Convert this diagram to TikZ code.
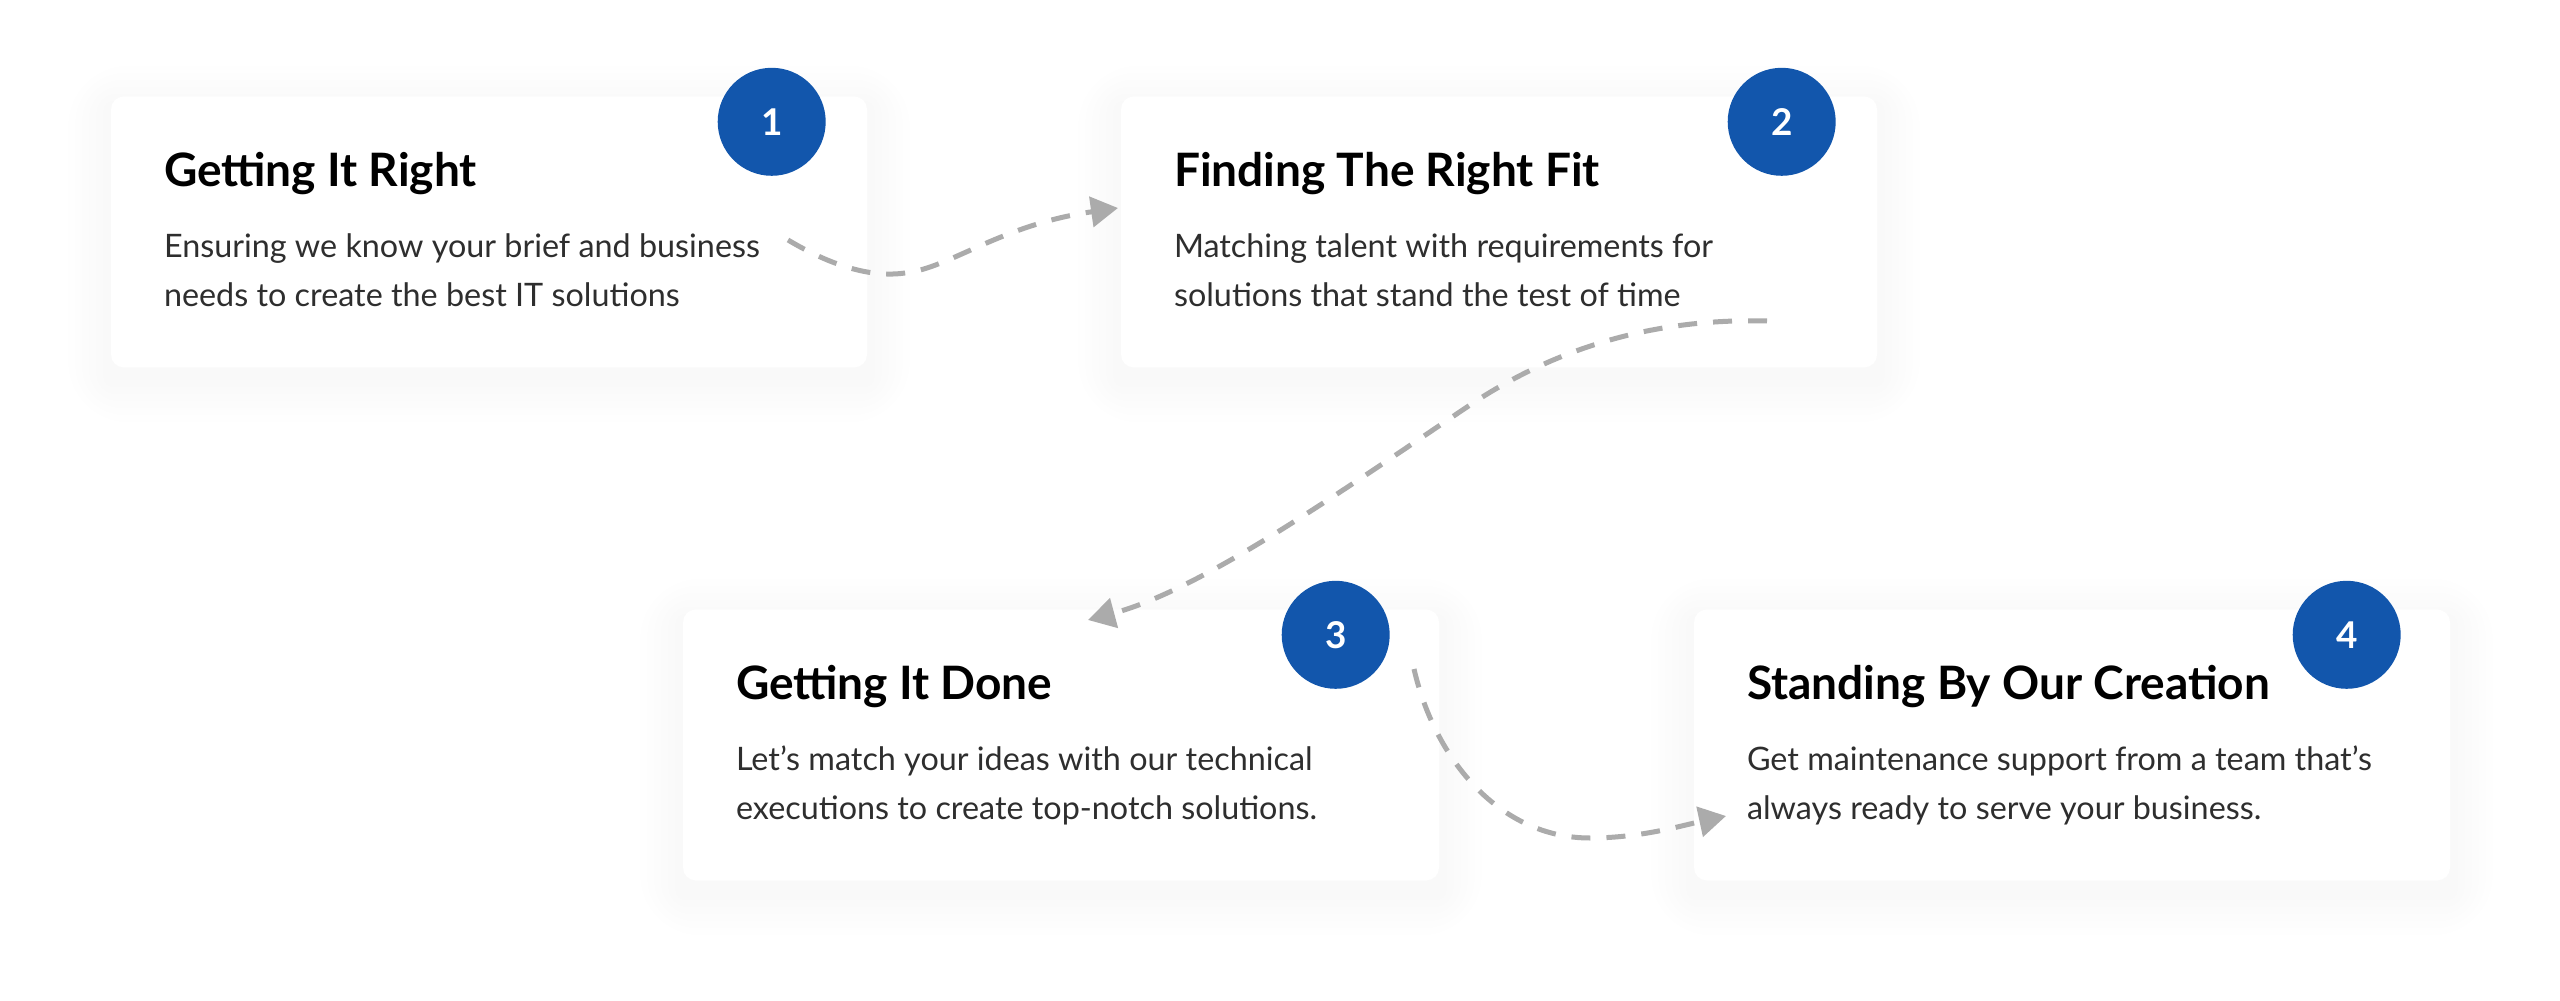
\documentclass[tikz,border=0pt]{standalone}
\usepackage{fontspec}
\setmainfont{Lato}
\usetikzlibrary{arrows.meta,calc,backgrounds}
\definecolor{stepblue}{HTML}{1256AC}
\definecolor{dashgray}{HTML}{ABABAB}
\definecolor{bodygray}{HTML}{2E2E2E}

\begin{document}
\begin{tikzpicture}[x=0.1mm,y=-0.1mm,
    card/.style={fill=white, rounded corners=1.3mm, minimum width=75.6mm, minimum height=27.1mm, inner sep=0pt},
    badge/.style={circle, fill=stepblue, minimum size=10.8mm, inner sep=0pt, text=white, font=\bfseries\fontsize{10.5}{12}\selectfont},
    ttl/.style={anchor=base west, inner sep=0pt, text=black, font=\bfseries\fontsize{13.1}{15}\selectfont},
    txt/.style={anchor=base west, inner sep=0pt, text=bodygray, font=\fontsize{9.2}{11}\selectfont},
    flow/.style={dashgray, line width=0.5mm, dash pattern=on 1.9mm off 1.6mm, -{Triangle[length=2.7mm,width=3mm]}}]
  \useasboundingbox (0,0) rectangle (2560,1001);

  % the four cards
  \node[card] (c1) at (489,232) {};
  \node[card] (c2) at (1499,232) {};
  \node[card] (c3) at (1061,745) {};
  \node[card] (c4) at (2072,745) {};

  % soft shadows behind the cards
  \begin{scope}[on background layer]
    \foreach \k in {c1,c2,c3,c4}
      \foreach \i [evaluate=\i as \r using 1.3+0.8*\i] in {1,...,6}
        \fill[black, opacity=0.005, rounded corners=\r mm]
          ($(\k.south west)+(-7*\i,7*\i+12)$) rectangle ($(\k.north east)+(7*\i,-7*\i+12)$);
  \end{scope}

  % numbered badges
  \node[badge] (n1) at ($(c1.north east)+(-96,26)$) {1};
  \node[badge] (n2) at ($(c2.north east)+(-96,26)$) {2};
  \node[badge] (n3) at ($(c3.north east)+(-104,26)$) {3};
  \node[badge] (n4) at ($(c4.north east)+(-104,26)$) {4};

  % titles and texts
  \node[ttl] (t1) at ($(c1.north west)+(53,91)$) {Getting It Right};
  \node[txt] (d1a) at ($(c1.north west)+(53,162)$) {Ensuring we know your brief and business};
  \node[txt] (d1b) at ($(c1.north west)+(53,211)$) {needs to create the best IT solutions};

  \node[ttl] (t2) at ($(c2.north west)+(53,91)$) {Finding The Right Fit};
  \node[txt] (d2a) at ($(c2.north west)+(53,162)$) {Matching talent with requirements for};
  \node[txt] (d2b) at ($(c2.north west)+(53,211)$) {solutions that stand the test of time};

  \node[ttl] (t3) at ($(c3.north west)+(53,91)$) {Getting It Done};
  \node[txt] (d3a) at ($(c3.north west)+(53,162)$) {Let’s match your ideas with our technical};
  \node[txt] (d3b) at ($(c3.north west)+(53,211)$) {executions to create top-notch solutions.};

  \node[ttl] (t4) at ($(c4.north west)+(53,91)$) {Standing By Our Creation};
  \node[txt] (d4a) at ($(c4.north west)+(53,162)$) {Get maintenance support from a team that’s};
  \node[txt] (d4b) at ($(c4.north west)+(53,211)$) {always ready to serve your business.};

  % dashed connectors
  \coordinate (a1s) at (788,240);
  \coordinate (a1e) at (1118,208);
  \coordinate (a2s) at (1767,321);
  \coordinate (a2e) at (1088,620);
  \coordinate (a3s) at (1414,669);
  \coordinate (a3e) at (1726,816);

  \draw[flow] (a1s) .. controls (830,265) and (870,278) .. (905,273)
    .. controls (950,268) and (1000,225) .. (a1e);
  \draw[flow] (a2s) .. controls (1660,318) and (1560,345) .. (1470,405)
    .. controls (1330,499) and (1200,590) .. (a2e);
  \draw[flow] (a3s) .. controls (1435,760) and (1500,838) .. (1590,838)
    .. controls (1640,838) and (1680,826) .. (a3e);
\end{tikzpicture}
\end{document}
